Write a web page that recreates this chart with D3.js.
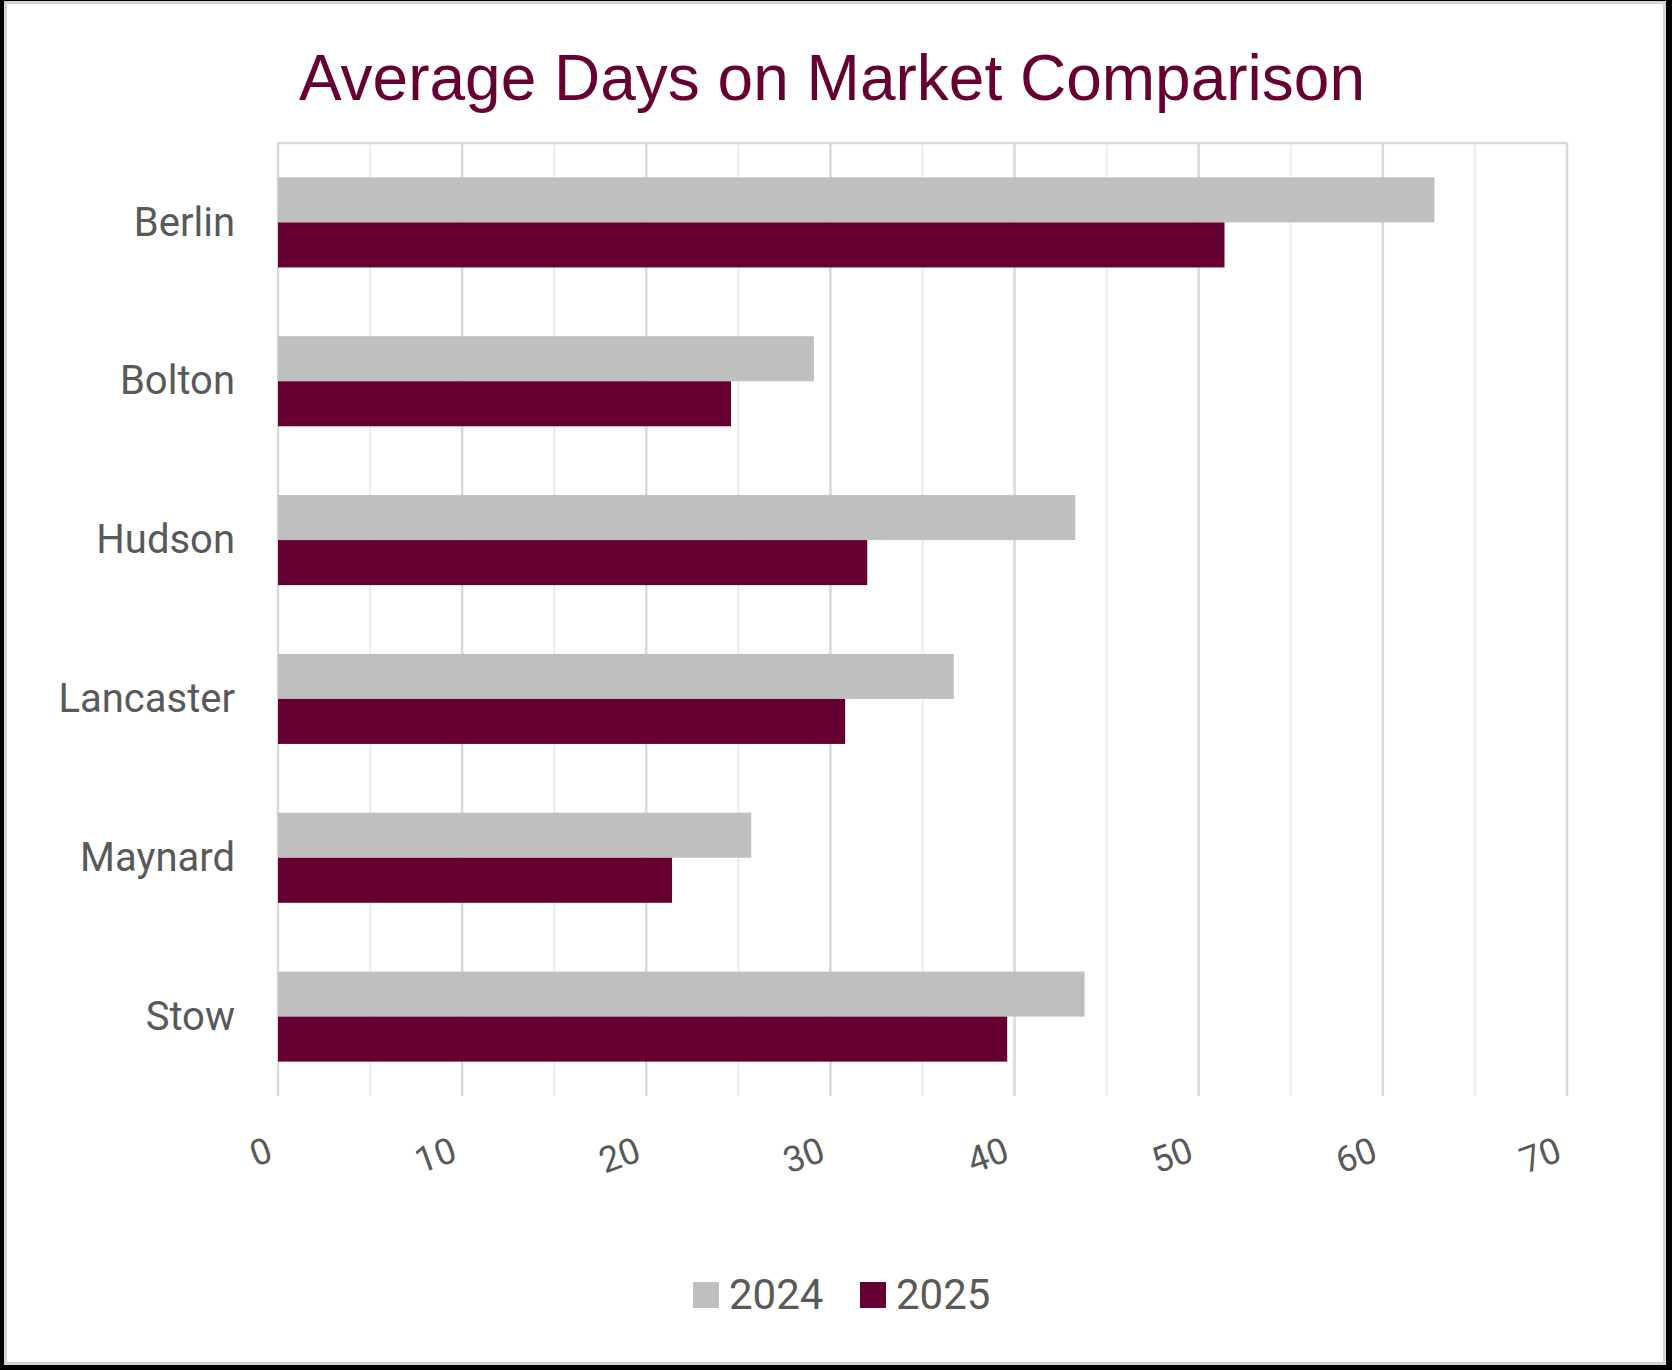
<!DOCTYPE html>
<html>
<head>
<meta charset="utf-8">
<script src="https://cdn.jsdelivr.net/npm/d3@7"></script>
<style>
    body { margin: 0; background: #000; }
</style>
</head>
<body>
<div id="chart-area"></div>
<script>
// Chart data
const towns = ["Berlin", "Bolton", "Hudson", "Lancaster", "Maynard", "Stow"];
const days2024 = [62.8, 29.1, 43.3, 36.7, 25.7, 43.8];
const days2025 = [51.4, 24.6, 32.0, 30.8, 21.4, 39.6];
const seriesNames = ["2024", "2025"];
const seriesColors = ["#bfbfbf", "#660033"];
const xTicks = [0, 10, 20, 30, 40, 50, 60, 70];

const width = 1672, height = 1370;
const plot = { left: 278, right: 1567, top: 143, bottom: 1096 };

const svg = d3.select("#chart-area")
    .append("svg")
        .attr("width", width)
        .attr("height", height);

// card
svg.append("rect")
    .attr("x", 0).attr("y", 0)
    .attr("width", width).attr("height", height)
    .attr("fill", "#000");
svg.append("rect")
    .attr("x", 5.5).attr("y", 2.5)
    .attr("width", 1659).attr("height", 1361)
    .attr("fill", "#fff")
    .attr("stroke", "#d4d4d4")
    .attr("stroke-width", 3);

// title
svg.append("text")
    .attr("x", 832)
    .attr("y", 100)
    .attr("text-anchor", "middle")
    .attr("font-family", "Liberation Sans, Arial, sans-serif")
    .attr("font-size", 64)
    .attr("fill", "#660033")
    .text("Average Days on Market Comparison");

const x = d3.scaleLinear()
    .domain([0, 70])
    .range([plot.left, plot.right]);

const y = d3.scaleBand()
    .domain(towns)
    .range([plot.top, plot.bottom])
    .paddingInner(0.433)
    .paddingOuter(0.2165);

const y2 = d3.scaleBand()
    .domain(seriesNames)
    .range([0, y.bandwidth()]);

// gridlines, minor every 5, major every 10
svg.append("g")
    .selectAll("line")
    .data(d3.range(0, 71, 5))
    .enter()
    .append("line")
        .attr("x1", d => x(d))
        .attr("x2", d => x(d))
        .attr("y1", plot.top)
        .attr("y2", plot.bottom)
        .attr("stroke", d => d % 10 === 0 ? "#d9d9d9" : "#efefef")
        .attr("stroke-width", 2.5);

svg.append("line")
    .attr("x1", plot.left).attr("x2", plot.right)
    .attr("y1", plot.top).attr("y2", plot.top)
    .attr("stroke", "#d9d9d9")
    .attr("stroke-width", 2.5);

// bars
const rows = towns.map((t, i) => ({ town: t, values: [days2024[i], days2025[i]] }));

const groups = svg.selectAll(".town")
    .data(rows)
    .enter()
    .append("g")
        .attr("class", "town")
        .attr("transform", d => `translate(0,${y(d.town)})`);

groups.selectAll("rect")
    .data(d => d.values.map((v, j) => ({ key: seriesNames[j], value: v, color: seriesColors[j] })))
    .enter()
    .append("rect")
        .attr("x", x(0))
        .attr("y", d => y2(d.key))
        .attr("width", d => x(d.value) - x(0))
        .attr("height", y2.bandwidth())
        .attr("fill", d => d.color);

// y axis labels
const yAxis = svg.append("g")
    .attr("transform", `translate(${plot.left},0)`)
    .call(d3.axisLeft(y).tickSize(0).tickPadding(43));
yAxis.select(".domain").remove();
yAxis.selectAll("text")
    .attr("font-family", "Roboto, sans-serif")
    .attr("font-size", 40)
    .attr("fill", "#595959")
    .attr("dy", "0.33em");

// x axis labels, slanted
const xAxis = svg.append("g")
    .attr("transform", `translate(0,${plot.bottom})`)
    .call(d3.axisBottom(x).tickValues(xTicks).tickSize(0).tickFormat(d3.format("d")));
xAxis.select(".domain").remove();
xAxis.selectAll("text")
    .attr("font-family", "Roboto, sans-serif")
    .attr("font-size", 36)
    .attr("fill", "#595959")
    .attr("text-anchor", "end")
    .attr("x", 0)
    .attr("y", 0)
    .attr("dy", 0)
    .attr("transform", "translate(-4,64) rotate(-20)");

// legend
const legend = svg.append("g")
    .selectAll("g")
    .data(seriesNames)
    .enter()
    .append("g")
        .attr("transform", (d, i) => `translate(${693 + i * 167},1282)`);

legend.append("rect")
    .attr("width", 26)
    .attr("height", 26)
    .attr("fill", (d, i) => seriesColors[i]);

legend.append("text")
    .attr("x", 36)
    .attr("y", 27)
    .attr("font-family", "Roboto, sans-serif")
    .attr("font-size", 42)
    .attr("fill", "#595959")
    .text(d => d);
</script>
</body>
</html>
